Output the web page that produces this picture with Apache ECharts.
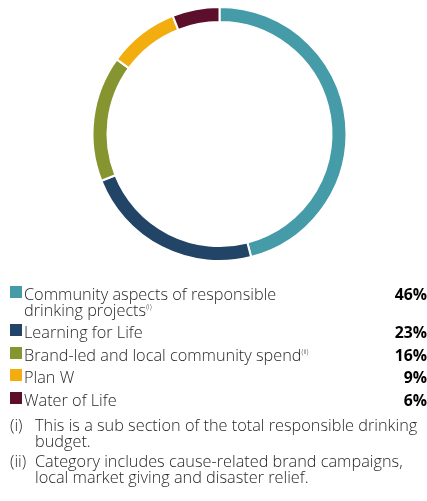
<!DOCTYPE html>
<html><head><meta charset="utf-8">
<script src="https://cdn.jsdelivr.net/npm/echarts@6/dist/echarts.min.js"></script>
<style>html,body{margin:0;padding:0;background:#fff}#c{width:427px;height:501px}</style>
</head><body><div id="c"></div>
<script>
// ---- data ----
const categories = ['Community aspects of responsible drinking projects', 'Learning for Life', 'Brand-led and local community spend', 'Plan W', 'Water of Life'];
const legendLines = [['Community aspects of responsible', 'drinking projects'], ['Learning for Life'], ['Brand-led and local community spend'], ['Plan W'], ['Water of Life']];
const legendNoteMarks = ['(i)', '', '(ii)', '', ''];
const values = [46, 23, 16, 9, 6];
const colors = ['#459ba8', '#224466', '#879531', '#f2ae0e', '#5c0f2b'];
const footnoteMarks = ['(i)', '(ii)'];
const footnoteLines = [['This is a sub section of the total responsible drinking', 'budget.'], ['Category includes cause-related brand campaigns,', 'local market giving and disaster relief.']];

// ---- layout ----
const FONT = '"Open Sans", "Noto Sans", sans-serif';
const TXT = '#231f20';
const FS = 16.3, LH = 16;
const W = 300;
const rowBaselines = [300, 338, 361, 383, 406];
const noteBaselines = [431, 467];

const chart = echarts.init(document.getElementById('c'), null, {renderer: 'canvas'});
const graphic = [];
legendLines.forEach((lines, i) => {
  const base = rowBaselines[i];
  graphic.push({type: 'rect', shape: {x: 10, y: base - 14, width: 12, height: 12}, style: {fill: colors[i]}, silent: true});
  const parts = lines.map((l, j) => {
    let s = '{t|' + l + '}';
    if (j === lines.length - 1 && legendNoteMarks[i]) s += '{s|' + legendNoteMarks[i] + '}';
    return s;
  });
  graphic.push({type: 'text', x: 24, y: base - 13, silent: true, style: {
    text: parts.join('\n'), fill: TXT, font: W + ' ' + FS + 'px ' + FONT, verticalAlign: 'top',
    rich: {t: {fontSize: FS, fontWeight: W, fontFamily: FONT, lineHeight: LH, fill: TXT},
           s: {fontSize: 7, fontWeight: W, fontFamily: FONT, lineHeight: 9, verticalAlign: 'top', fill: TXT}}
  }});
  graphic.push({type: 'text', x: 427, y: base - 13, silent: true, style: {
    text: values[i] + '%', fill: '#000', font: 'bold 15.8px ' + FONT, align: 'right', verticalAlign: 'top', lineHeight: LH
  }});
});
footnoteMarks.forEach((m, i) => {
  const base = noteBaselines[i];
  graphic.push({type: 'text', x: 10, y: base - 13, silent: true, style: {
    text: m, fill: TXT, font: W + ' ' + FS + 'px ' + FONT, verticalAlign: 'top', lineHeight: LH}});
  graphic.push({type: 'text', x: 35, y: base - 13, silent: true, style: {
    text: footnoteLines[i].join('\n'), fill: TXT, font: W + ' ' + FS + 'px ' + FONT, verticalAlign: 'top', lineHeight: LH}});
});

chart.setOption({
  animation: false,
  backgroundColor: '#fff',
  series: [{
    type: 'pie',
    center: [219.5, 134],
    radius: [112, 127],
    startAngle: 90,
    clockwise: true,
    silent: true,
    label: {show: false},
    labelLine: {show: false},
    itemStyle: {borderColor: '#fff', borderWidth: 2},
    data: categories.map((c, i) => ({name: c, value: values[i], itemStyle: {color: colors[i]}}))
  }],
  graphic: graphic
});
</script>
</body></html>
